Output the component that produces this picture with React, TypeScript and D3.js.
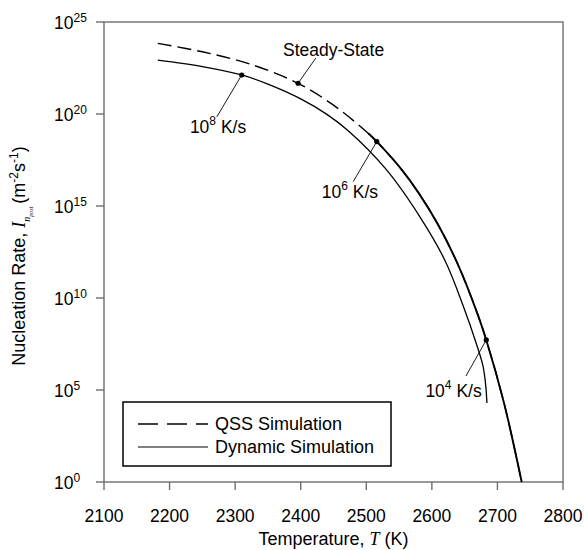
import React from 'react';
import * as d3 from 'd3';

// ---- data ----
const xTickValues = [2100, 2200, 2300, 2400, 2500, 2600, 2700, 2800];
const yTickExponents = [0, 5, 10, 15, 20, 25];

// QSS (steady-state) simulation: temperature (K) and log10 of nucleation rate
const qssTemp = [2182, 2250, 2322, 2396, 2450, 2495, 2516, 2550, 2580, 2610, 2640, 2670, 2683, 2710, 2737];
const qssLogRate = [23.84, 23.38, 22.72, 21.67, 20.48, 19.2, 18.5, 17.15, 15.7, 13.95, 11.8, 9.1, 7.72, 4.3, 0];

// Dynamic simulation, slower cooling rates (overlapping the QSS curve)
const dynSlowTemp = [2503, 2516, 2550, 2580, 2610, 2640, 2670, 2683, 2710, 2737];
const dynSlowLogRate = [18.95, 18.5, 17.15, 15.7, 13.95, 11.8, 9.1, 7.72, 4.3, 0];

// Dynamic simulation, 10^8 K/s
const dynFastTemp = [2182, 2250, 2310, 2350, 2400, 2440, 2472, 2530, 2582, 2620, 2648, 2668, 2678, 2682, 2684];
const dynFastLogRate = [22.93, 22.58, 22.12, 21.62, 20.82, 19.98, 19.1, 17.0, 14.4, 12.04, 9.55, 7.5, 6.3, 5.3, 4.29];

// annotations: base text, superscript, tail text, dot (T, log), label anchor (T, log), leader end (T, log)
const annBase = ['Steady-State', '10', '10', '10'];
const annSup = ['', '8', '6', '4'];
const annTail = ['', ' K/s', ' K/s', ' K/s'];
const annAnchor = ['start', 'start', 'start', 'end'];
const annDotT = [2396, 2310, 2516, 2683];
const annDotLog = [21.67, 22.12, 18.5, 7.72];
const annLabelT = [2373, 2231, 2432, 2676];
const annLabelLog = [23.15, 18.97, 15.42, 4.6];
const annLeaderT = [2423, 2272, 2480, 2652];
const annLeaderLog = [23.04, 19.84, 16.32, 5.76];

const legendLabels = ['QSS Simulation', 'Dynamic Simulation'];

// ---- layout ----
const W = 584;
const H = 550;
const left = 104;
const right = 563;
const top = 22;
const bottom = 482;
const SANS = '"Liberation Sans", Arial, Helvetica, sans-serif';
const SERIF = '"Liberation Serif", "Times New Roman", serif';
const axisColor = '#6e6e6e';

export default function App() {
  const x = d3.scaleLinear().domain([2100, 2800]).range([left, right]);
  const y = d3.scaleLog().domain([1, 1e25]).range([bottom, top]);
  const yl = (e: number) => y(Math.pow(10, e));

  const line = d3
    .line<[number, number]>()
    .x((d) => x(d[0]))
    .y((d) => yl(d[1]))
    .curve(d3.curveCatmullRom.alpha(0.5));

  const qssPath = line(qssTemp.map((t, i) => [t, qssLogRate[i]] as [number, number])) || '';
  const slowPath = line(dynSlowTemp.map((t, i) => [t, dynSlowLogRate[i]] as [number, number])) || '';
  const fastPath = line(dynFastTemp.map((t, i) => [t, dynFastLogRate[i]] as [number, number])) || '';

  const tickLen = 8;

  // legend geometry
  const lgX = 123;
  const lgY = 402;
  const lgW = 268;
  const lgH = 64;

  return (
    <svg
      width={W}
      height={H}
      viewBox={`0 0 ${W} ${H}`}
      style={{ position: 'absolute', left: 0, top: 0, display: 'block', background: '#fff' }}
      fontFamily={SANS}
    >
      <rect x={0} y={0} width={W} height={H} fill="#fff" />

      {/* frame */}
      <rect x={left} y={top} width={right - left} height={bottom - top} fill="none" stroke={axisColor} strokeWidth={1.4} />

      {/* x ticks */}
      {xTickValues.map((t) => (
        <g key={`xt${t}`}>
          <line x1={x(t)} x2={x(t)} y1={bottom} y2={bottom + tickLen} stroke={axisColor} strokeWidth={1.4} />
          <text x={x(t)} y={522} textAnchor="middle" fontSize={17.5} fill="#000">
            {t}
          </text>
        </g>
      ))}

      {/* y ticks */}
      {yTickExponents.map((e) => (
        <g key={`yt${e}`}>
          <line x1={left - tickLen} x2={left} y1={yl(e)} y2={yl(e)} stroke={axisColor} strokeWidth={1.4} />
          <text x={54} y={yl(e) + 7} textAnchor="start" fontSize={17.5} fill="#000">
            10
            <tspan fontSize={12} dy={-7}>
              {e}
            </tspan>
          </text>
        </g>
      ))}

      {/* axis titles */}
      <text x={(left + right) / 2} y={545} textAnchor="middle" fontSize={18} fill="#000">
        Temperature,{' '}
        <tspan fontFamily={SERIF} fontStyle="italic">
          T
        </tspan>{' '}
        (K)
      </text>
      <text transform={`translate(25, 256) rotate(-90)`} textAnchor="middle" fontSize={18} fill="#000">
        Nucleation Rate,{' '}
        <tspan fontFamily={SERIF} fontStyle="italic">
          I
        </tspan>
        <tspan fontFamily={SERIF} fontStyle="italic" fontSize={10} dy={5}>
          n
        </tspan>
        <tspan fontFamily={SERIF} fontStyle="italic" fontSize={6} dy={3}>
          post
        </tspan>
        <tspan dy={-8} dx={3}>{'(m'}</tspan>
        <tspan fontSize={12} dy={-7}>
          -2
        </tspan>
        <tspan dy={7}>s</tspan>
        <tspan fontSize={12} dy={-7}>
          -1
        </tspan>
        <tspan dy={7}>)</tspan>
      </text>

      {/* curves */}
      <path d={qssPath} fill="none" stroke="#000" strokeWidth={1.4} strokeDasharray="14,6" />
      <path d={fastPath} fill="none" stroke="#000" strokeWidth={1.3} />
      <path d={slowPath} fill="none" stroke="#000" strokeWidth={1.9} />

      {/* annotations */}
      {annBase.map((b, i) => (
        <g key={`ann${i}`}>
          <line
            x1={x(annLeaderT[i])}
            y1={yl(annLeaderLog[i])}
            x2={x(annDotT[i])}
            y2={yl(annDotLog[i])}
            stroke="#000"
            strokeWidth={0.9}
          />
          <circle cx={x(annDotT[i])} cy={yl(annDotLog[i])} r={2.6} fill="#000" />
          <text
            x={x(annLabelT[i])}
            y={yl(annLabelLog[i])}
            textAnchor={annAnchor[i] as any}
            fontSize={17.5}
            fill="#000"
          >
            {b}
            {annSup[i] ? (
              <tspan fontSize={12} dy={-8}>
                {annSup[i]}
              </tspan>
            ) : null}
            {annTail[i] ? <tspan dy={8}>{annTail[i]}</tspan> : null}
          </text>
        </g>
      ))}

      {/* legend */}
      <rect x={lgX} y={lgY} width={lgW} height={lgH} fill="#fff" stroke="#000" strokeWidth={1.5} />
      <line x1={138} x2={208} y1={lgY + 22} y2={lgY + 22} stroke="#000" strokeWidth={1.4} strokeDasharray="20,9" />
      <line x1={138} x2={208} y1={lgY + 45} y2={lgY + 45} stroke="#000" strokeWidth={1.1} />
      <text x={215} y={lgY + 28} fontSize={18} fill="#000">
        {legendLabels[0]}
      </text>
      <text x={215} y={lgY + 51} fontSize={18} fill="#000">
        {legendLabels[1]}
      </text>
    </svg>
  );
}
